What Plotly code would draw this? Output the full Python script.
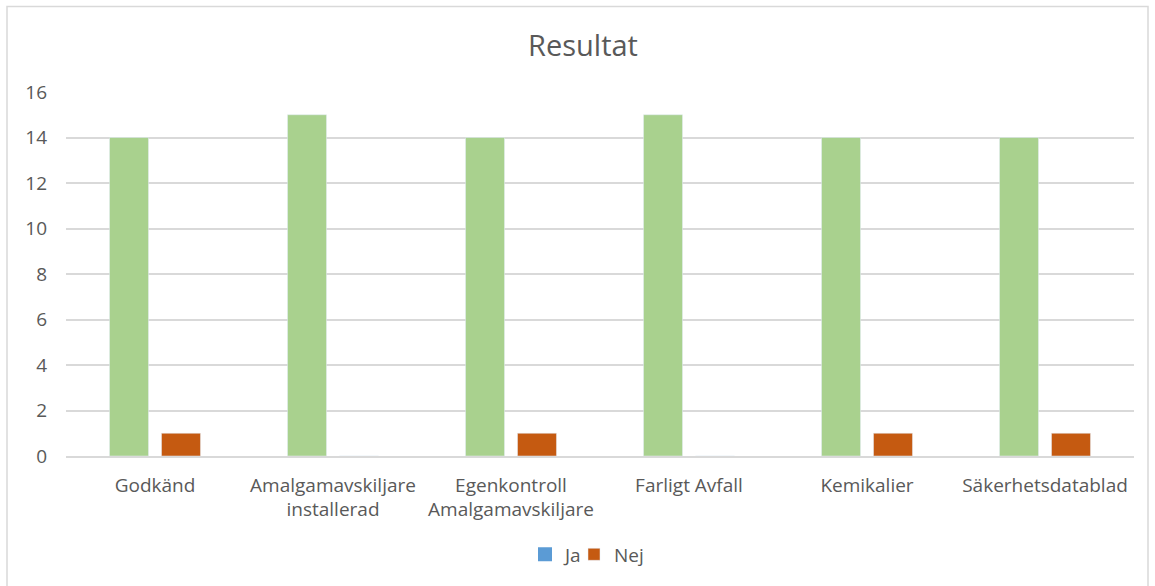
import plotly.graph_objects as go

categories = ["Godkänd", "Amalgamavskiljare<br>installerad", "Egenkontroll<br>Amalgamavskiljare",
              "Farligt Avfall", "Kemikalier", "Säkerhetsdatablad"]
ja_values = [14, 15, 14, 15, 14, 14]
nej_values = [1, 0, 1, 0, 1, 1]

W, H = 1155, 586
L, R, T, B = 66, 21, 92, 128
pw, ph = W - L - R, H - T - B

fig = go.Figure()
fig.add_trace(go.Bar(x=categories, y=ja_values, name="Ja", marker_color="#A9D18E",
                     showlegend=False, hoverinfo="y"))
fig.add_trace(go.Scatter(x=[None], y=[None], name="Ja", mode="markers", legend="legend",
                         marker=dict(symbol="square", size=14, color="#5B9BD5")))
fig.add_trace(go.Bar(x=categories, y=nej_values, name="Nej", marker_color="#C55A11",
                     legend="legend2"))

font = "Open Sans, DejaVu Sans, sans-serif"
leg_y = -(557 - (H - B)) / ph
common = dict(orientation="h", xanchor="left", y=leg_y, yanchor="middle", itemwidth=30,
              font=dict(size=19, color="#595959"), itemclick=False, bgcolor="rgba(0,0,0,0)")
fig.update_layout(
    width=W, height=H,
    margin=dict(l=L, r=R, t=T, b=B),
    paper_bgcolor="white", plot_bgcolor="white",
    barmode="group", bargap=0.416, bargroupgap=0.25,
    title=dict(text="Resultat", x=583 / W, xanchor="center", y=1 - 46 / H, yanchor="middle",
               font=dict(family=font, size=29, color="#595959")),
    font=dict(family=font, size=19, color="#595959"),
    legend=dict(x=(525 - L) / pw, **common),
    legend2=dict(x=(574 - L) / pw, **common),
    shapes=[dict(type="rect", xref="paper", yref="paper",
                 x0=(7 - L) / pw, x1=(1148 - L) / pw,
                 y0=-(592 - (H - B)) / ph, y1=1 + (T - 6) / ph,
                 line=dict(color="#D9D9D9", width=1.5), layer="below")],
)
fig.update_yaxes(range=[0, 16], dtick=2, showgrid=True, gridcolor="#D9D9D9", gridwidth=1.5,
                 zeroline=False, showline=False, ticks="", ticklabelstandoff=18,
                 tickfont=dict(size=19, color="#595959"))
fig.update_xaxes(showline=True, linecolor="#D9D9D9", linewidth=1.5, ticks="",
                 ticklabelstandoff=11, tickfont=dict(size=19, color="#595959"))

fig.write_html("out.html", config={"displayModeBar": False},
               post_script="document.body.style.margin='0';")
